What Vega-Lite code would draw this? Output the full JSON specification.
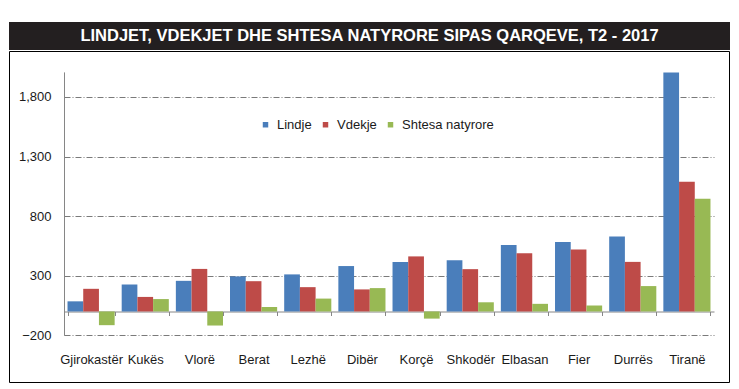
{
  "$schema": "https://vega.github.io/schema/vega-lite/v6.json",
  "padding": {"left": 8, "top": 22, "right": 0, "bottom": 0},
  "background": "white",
  "spacing": 0,
  "config": {"concat": {"spacing": 0}},
  "vconcat": [
    {
      "width": 721,
      "height": 28,
      "view": {"fill": "#231f20", "stroke": null},
      "data": {"values": [{"t": "LINDJET, VDEKJET DHE SHTESA NATYRORE SIPAS QARQEVE, T2 - 2017"}]},
      "mark": {"type": "text", "color": "white", "font": "Liberation Sans", "fontWeight": "bold", "fontSize": 16.5, "baseline": "middle", "align": "center"},
      "encoding": {"text": {"field": "t", "type": "nominal"}}
    },
    {
      "width": 720,
      "height": 331,
      "view": {"fill": "white", "stroke": "#000000", "strokeWidth": 1},
      "data": {"values": [
        {"q": "Gjirokastër", "s": "Lindje", "v": 85},
        {"q": "Gjirokastër", "s": "Vdekje", "v": 190},
        {"q": "Gjirokastër", "s": "Shtesa natyrore", "v": -115},
        {"q": "Kukës", "s": "Lindje", "v": 226},
        {"q": "Kukës", "s": "Vdekje", "v": 122},
        {"q": "Kukës", "s": "Shtesa natyrore", "v": 104},
        {"q": "Vlorë", "s": "Lindje", "v": 257},
        {"q": "Vlorë", "s": "Vdekje", "v": 357},
        {"q": "Vlorë", "s": "Shtesa natyrore", "v": -118},
        {"q": "Berat", "s": "Lindje", "v": 294},
        {"q": "Berat", "s": "Vdekje", "v": 254},
        {"q": "Berat", "s": "Shtesa natyrore", "v": 38},
        {"q": "Lezhë", "s": "Lindje", "v": 311},
        {"q": "Lezhë", "s": "Vdekje", "v": 204},
        {"q": "Lezhë", "s": "Shtesa natyrore", "v": 108},
        {"q": "Dibër", "s": "Lindje", "v": 381},
        {"q": "Dibër", "s": "Vdekje", "v": 185},
        {"q": "Dibër", "s": "Shtesa natyrore", "v": 196},
        {"q": "Korçë", "s": "Lindje", "v": 415},
        {"q": "Korçë", "s": "Vdekje", "v": 462},
        {"q": "Korçë", "s": "Shtesa natyrore", "v": -60},
        {"q": "Shkodër", "s": "Lindje", "v": 430},
        {"q": "Shkodër", "s": "Vdekje", "v": 355},
        {"q": "Shkodër", "s": "Shtesa natyrore", "v": 77},
        {"q": "Elbasan", "s": "Lindje", "v": 557},
        {"q": "Elbasan", "s": "Vdekje", "v": 489},
        {"q": "Elbasan", "s": "Shtesa natyrore", "v": 64},
        {"q": "Fier", "s": "Lindje", "v": 582},
        {"q": "Fier", "s": "Vdekje", "v": 520},
        {"q": "Fier", "s": "Shtesa natyrore", "v": 50},
        {"q": "Durrës", "s": "Lindje", "v": 630},
        {"q": "Durrës", "s": "Vdekje", "v": 416},
        {"q": "Durrës", "s": "Shtesa natyrore", "v": 213},
        {"q": "Tiranë", "s": "Lindje", "v": 2005},
        {"q": "Tiranë", "s": "Vdekje", "v": 1088},
        {"q": "Tiranë", "s": "Shtesa natyrore", "v": 946}
      ]},
      "mark": {"type": "bar"},
      "encoding": {
        "x": {
          "field": "q", "type": "nominal", "sort": null,
          "scale": {"range": [55, 705], "paddingInner": 0.13, "paddingOuter": 0.065},
          "axis": {
            "title": null, "orient": "bottom", "offset": -70.5, "labelAngle": 0,
            "tickBand": "extent", "ticks": true, "tickSize": 4, "tickColor": "#868686",
            "domainColor": "#868686", "domainWidth": 1,
            "labelFont": "Liberation Sans", "labelFontSize": 13, "labelColor": "#1a1a1a",
            "labelPadding": 37.5, "grid": false
          }
        },
        "xOffset": {"field": "s", "type": "nominal", "sort": ["Lindje", "Vdekje", "Shtesa natyrore"], "scale": {"paddingInner": 0, "paddingOuter": 0}},
        "y": {
          "field": "v", "type": "quantitative",
          "scale": {"domain": [-200, 2010], "range": [284.3, 20.9], "nice": false, "zero": false},
          "axis": {
            "title": null, "orient": "left", "offset": -55,
            "values": [-200, 300, 800, 1300, 1800], "format": ",.0f",
            "ticks": false, "domain": true, "domainColor": "#868686",
            "labelFont": "Liberation Sans", "labelFontSize": 13, "labelColor": "#1a1a1a",
            "labelPadding": 13,
            "grid": true, "gridColor": "#7a7a7a", "gridDash": [6, 2, 1, 2], "gridWidth": 1
          }
        },
        "color": {
          "field": "s", "type": "nominal",
          "scale": {"domain": ["Lindje", "Vdekje", "Shtesa natyrore"], "range": ["#4a7ebb", "#be4b48", "#98b954"]},
          "legend": {
            "title": null, "orient": "none", "legendX": 250, "legendY": 96, "direction": "horizontal",
            "symbolType": "square", "symbolSize": 30, "symbolStrokeWidth": 0,
            "labelFont": "Liberation Sans", "labelFontSize": 13, "labelColor": "#1a1a1a",
            "labelOffset": 5, "columnPadding": 7, "padding": 0
          }
        }
      }
    }
  ]
}
